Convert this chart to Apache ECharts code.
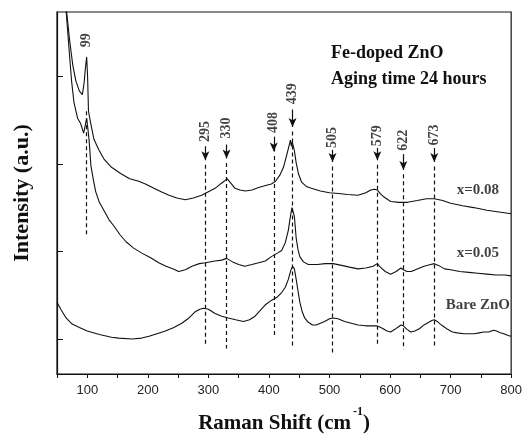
<!DOCTYPE html>
<html>
<head>
<meta charset="utf-8">
<script src="https://cdn.jsdelivr.net/npm/echarts@6/dist/echarts.min.js"></script>
<style>
  html, body { margin: 0; padding: 0; background: #fff; }
  #chart { width: 525px; height: 439px; }
</style>
</head>
<body>
<div id="chart"></div>
<script>
// Raman spectra (intensity in arbitrary units, one y tick = 1)
const shiftBare = [50,57,65,75,87,100,120,140,152,174,190,202,215,229,243,256,268,278,286,292,300,311,322,333,345,358,368,377,385,394,404,414,421,427,432,436,439,442,445,448,451,455,459,465,472,478,485,492,500,506,514,525,536,547,560,570,577,582,588,595,601,608,614,618,622,628,634,641,649,656,664,669,673,678,683,689,695,703,711,722,731,739,747,755,763,771,776,782,788,795,800]
const intBare = [0.42,0.33,0.24,0.17,0.13,0.09,0.05,0.02,0.01,0.00,0.01,0.03,0.06,0.09,0.13,0.18,0.24,0.31,0.34,0.35,0.34,0.29,0.26,0.24,0.22,0.20,0.22,0.26,0.32,0.39,0.44,0.48,0.53,0.59,0.68,0.78,0.83,0.80,0.68,0.55,0.42,0.31,0.24,0.19,0.16,0.16,0.18,0.20,0.23,0.24,0.23,0.20,0.18,0.16,0.15,0.15,0.15,0.14,0.12,0.09,0.08,0.11,0.14,0.16,0.15,0.11,0.08,0.09,0.12,0.16,0.19,0.21,0.22,0.20,0.17,0.14,0.11,0.08,0.07,0.06,0.06,0.06,0.07,0.08,0.08,0.10,0.09,0.07,0.06,0.04,0.03]

const shift05 = [50,60,65,70,74,78,84,89,94,97,99,101,103,106,110,114,120,128,136,144,154,164,176,190,204,218,230,242,251,262,273,285,295,311,322,330,340,350,360,372,383,394,404,414,421,427,432,435,438,440,442,445,448,451,457,465,480,493,506,520,533,547,560,572,579,584,592,601,610,618,622,628,635,645,656,667,673,680,690,700,715,730,745,760,775,790,800]
const int05 = [4.6,3.9,3.75,3.3,2.95,2.7,2.52,2.46,2.35,2.45,2.52,2.4,2.27,1.98,1.82,1.68,1.56,1.46,1.36,1.29,1.19,1.11,1.04,0.98,0.93,0.87,0.83,0.80,0.77,0.79,0.83,0.86,0.87,0.89,0.90,0.92,0.88,0.85,0.83,0.85,0.87,0.89,0.94,0.98,1.01,1.1,1.24,1.38,1.5,1.52,1.4,1.15,1.02,0.94,0.88,0.85,0.85,0.86,0.86,0.84,0.82,0.80,0.81,0.83,0.86,0.82,0.77,0.74,0.77,0.81,0.79,0.77,0.77,0.80,0.83,0.85,0.86,0.84,0.80,0.79,0.77,0.76,0.75,0.74,0.73,0.73,0.72]

const shift08 = [50,60,66,71,76,81,87,92,95,97,99,100.5,102,106,111,119,128,140,155,170,185,196,210,222,235,248,262,275,289,300,311,320,326,331,337,344,352,361,372,383,393,404,411,418,424,429,433,435.5,437,438.5,440,442,445,449,454,462,470,485,500,515,530,547,560,568,574,579,584,590,601,615,629,645,660,673,687,700,720,738,760,780,800]
const int08 = [4.9,4.1,3.73,3.4,3.13,2.95,2.83,2.79,2.94,3.1,3.22,3.0,2.6,2.45,2.28,2.16,2.05,1.96,1.89,1.83,1.80,1.77,1.72,1.68,1.64,1.61,1.59,1.61,1.64,1.68,1.72,1.77,1.80,1.83,1.78,1.72,1.70,1.69,1.70,1.73,1.75,1.77,1.8,1.87,1.96,2.09,2.2,2.27,2.2,2.25,2.24,2.15,2.01,1.88,1.79,1.74,1.72,1.69,1.67,1.66,1.65,1.64,1.67,1.70,1.71,1.70,1.66,1.62,1.57,1.56,1.56,1.58,1.60,1.60,1.58,1.55,1.52,1.50,1.47,1.45,1.43]

// marked peaks: arrow from arrowTop down to arrowTip, dashed line down to dashEnd
const peakShifts = [295, 330, 408, 439, 505, 579, 622, 673]
const arrowTop = [2.2, 2.22, 2.31, 2.62, 2.16, 2.18, 2.11, 2.18]
const arrowTip = [2.04, 2.06, 2.14, 2.42, 2.02, 2.04, 1.93, 2.02]
const dashEnd = [-0.06, -0.11, 0.02, -0.08, -0.18, -0.06, -0.12, -0.08]
const peakLabelY = [2.37, 2.41, 2.47, 2.8, 2.3, 2.32, 2.27, 2.33]
// the 99 peak has a dashed line only
const lowPeak = 99
const lowPeakLine = [2.6, 1.19]
const lowPeakLabelY = 3.41

const curveNames = ['x=0.08', 'x=0.05', 'Bare ZnO']
const curveLabelShift = [745, 745, 745]
const curveLabelY = [1.70, 0.98, 0.39]

const xTicks = [100, 200, 300, 400, 500, 600, 700, 800]
const yTicks = [0, 1, 2, 3]

const serif = "'Liberation Serif', 'Times New Roman', serif"
const ink = '#111'

function zip(xs, ys) {
  return xs.map((x, i) => [x, ys[i]])
}

const chart = echarts.init(document.getElementById('chart'))

const spectrum = (name, xs, ys) => ({
  name: name,
  type: 'line',
  data: zip(xs, ys),
  showSymbol: false,
  clip: true,
  lineStyle: { color: ink, width: 1.1 },
  z: 3
})

const arrowLines = peakShifts.map((s, i) => [
  { coord: [s, arrowTop[i]] },
  { coord: [s, arrowTip[i]] }
])
const dashLines = peakShifts.map((s, i) => [
  { coord: [s, arrowTip[i] - 0.05] },
  { coord: [s, dashEnd[i]] }
])
dashLines.push([{ coord: [lowPeak, lowPeakLine[0]] }, { coord: [lowPeak, lowPeakLine[1]] }])

const option = {
  animation: false,
  backgroundColor: '#fff',
  title: {
    text: 'Fe-doped ZnO\nAging time 24 hours',
    left: 326,
    top: 35,
    textStyle: {
      fontFamily: serif,
      fontWeight: 'bold',
      fontSize: 18,
      lineHeight: 26,
      color: ink
    }
  },
  grid: {
    left: 57,
    right: 11,
    top: 12,
    bottom: 55,
    show: true,
    borderColor: ink,
    borderWidth: 1.2,
    backgroundColor: '#fff'
  },
  xAxis: {
    type: 'value',
    min: 50,
    max: 800,
    interval: 50,
    name: '{t|Raman Shift (cm}{s|-1}{t|)}',
    nameLocation: 'middle',
    nameGap: 32,
    nameTextStyle: {
      rich: {
        t: { fontFamily: serif, fontWeight: 'bold', fontSize: 21, color: ink, lineHeight: 28, verticalAlign: 'bottom' },
        s: { fontFamily: serif, fontWeight: 'bold', fontSize: 12, color: ink, lineHeight: 28, verticalAlign: 'top', padding: [0, 0, 0, 2] }
      }
    },
    axisLine: { onZero: false, lineStyle: { color: ink, width: 1.2 } },
    axisTick: { inside: false, length: 4, lineStyle: { color: ink } },
    axisLabel: {
      margin: 10,
      fontFamily: "'Liberation Sans', Arial, sans-serif",
      fontSize: 13,
      color: '#222',
      formatter: v => (xTicks.includes(v) ? String(v) : '')
    },
    splitLine: { show: false }
  },
  yAxis: {
    type: 'value',
    min: -0.4,
    max: 3.733,
    name: 'Intensity (a.u.)',
    nameLocation: 'middle',
    nameGap: 24,
    nameTextStyle: { fontFamily: serif, fontWeight: 'bold', fontSize: 22, color: ink },
    axisLine: { onZero: false, lineStyle: { color: ink, width: 1.2 } },
    axisTick: { inside: true, length: 6, customValues: yTicks, lineStyle: { color: ink } },
    axisLabel: { show: false },
    splitLine: { show: false }
  },
  series: [
    Object.assign(spectrum('x=0.08', shift08, int08), {
      markLine: {
        silent: true,
        animation: false,
        symbol: ['none', 'arrow'],
        symbolSize: [6, 9],
        label: { show: false },
        lineStyle: { color: ink, width: 1.2, type: 'solid' },
        data: arrowLines
      }
    }),
    spectrum('x=0.05', shift05, int05),
    Object.assign(spectrum('Bare ZnO', shiftBare, intBare), {
      markLine: {
        silent: true,
        animation: false,
        symbol: ['none', 'none'],
        label: { show: false },
        lineStyle: { color: ink, width: 1.2, type: [4, 3] },
        data: dashLines
      }
    }),
    {
      name: 'peakLabels',
      type: 'scatter',
      symbolSize: 0,
      silent: true,
      data: peakShifts.map((s, i) => [s, peakLabelY[i], String(s)])
        .concat([[lowPeak, lowPeakLabelY, String(lowPeak)]]),
      label: {
        show: true,
        position: 'inside',
        rotate: 90,
        fontFamily: serif,
        fontSize: 14,
        color: ink,
        formatter: p => p.data[2],
        fontWeight: 'bold'
      },
      z: 5
    },
    {
      name: 'curveLabels',
      type: 'scatter',
      symbolSize: 0,
      silent: true,
      data: curveNames.map((n, i) => [curveLabelShift[i], curveLabelY[i], n]),
      label: {
        show: true,
        position: 'inside',
        fontFamily: serif,
        fontWeight: 'bold',
        fontSize: 15,
        color: ink,
        formatter: p => p.data[2]
      },
      z: 5
    }
  ]
}

chart.setOption(option)
</script>
</body>
</html>
